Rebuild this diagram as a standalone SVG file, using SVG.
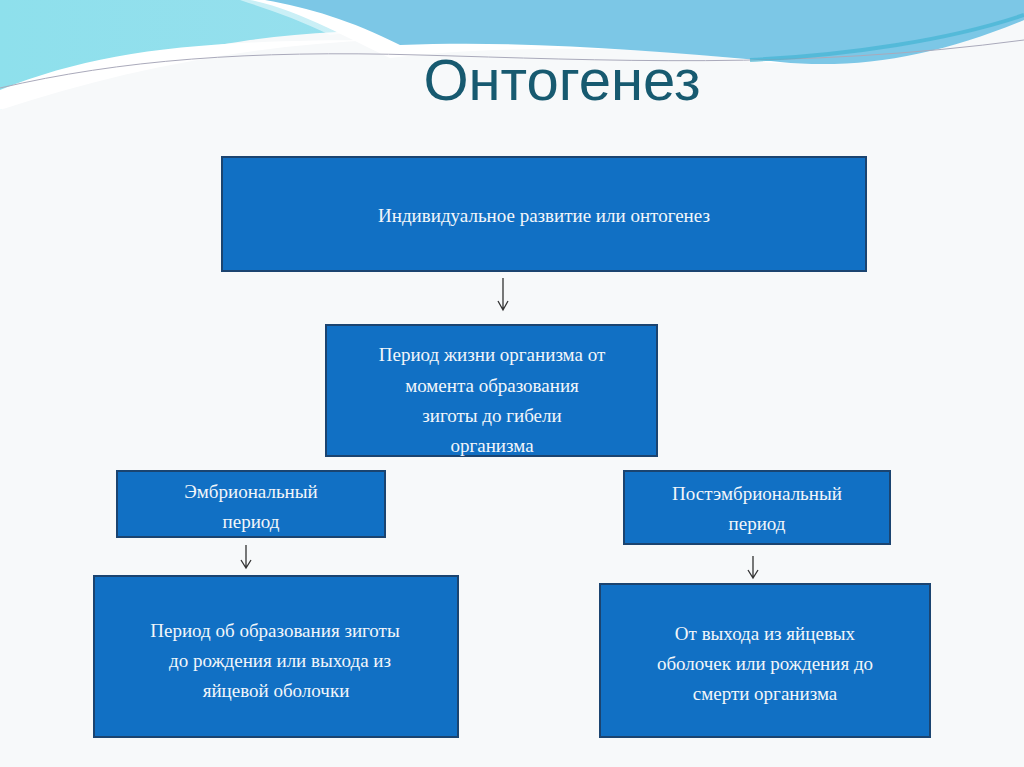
<svg xmlns="http://www.w3.org/2000/svg" width="1024" height="767" viewBox="0 0 1024 767">
<style>
.box{fill:#1170c4;stroke:#1b4470;stroke-width:2}
.t{font-family:"Liberation Serif",serif;font-size:19px;fill:#f2f6fa;text-anchor:middle}
.c{stroke:#333;stroke-width:1.3;fill:none}
</style>
<defs>
<linearGradient id="g1" x1="0" y1="0" x2="1" y2="0"><stop offset="0" stop-color="#8ee0ec"/><stop offset="1" stop-color="#a6def0"/></linearGradient>
</defs>
<rect width="1024" height="767" fill="#f7f9fa"/>
<path d="M0 0 H1024 V20 C900 60 820 65 740 58 C600 30 400 20 250 40 C120 60 40 90 0 110 Z" fill="url(#g1)"/>
<path d="M240 0 H1024 V20 C900 60 820 65 740 58 C600 40 450 20 330 35 C300 20 270 10 240 0Z" fill="#fff" opacity="0.5"/>
<path d="M250 0 C300 10 350 40 390 58 C500 45 650 45 760 62 C850 70 950 40 1024 18 V0Z" fill="#fff"/>
<path d="M265 0 H1024 V20 C940 55 860 70 780 62 C650 50 520 40 400 45 C350 20 310 8 265 0Z" fill="#7cc7e6"/>
<path d="M0 90 C100 50 200 40 380 40 C250 45 120 70 0 110Z" fill="#fff"/>
<path d="M0 88 C120 60 250 50 420 55 C600 60 800 70 1024 40" fill="none" stroke="#aab" stroke-width="1"/>
<path d="M750 60 C850 55 950 40 1024 15" fill="none" stroke="#3ab0d0" stroke-width="4" opacity="0.6"/>
<text x="562" y="100" font-family="Liberation Sans,sans-serif" font-size="58" fill="#175a70" text-anchor="middle">Онтогенез</text>
<g id="connectors">
<path class="c" d="M503 278 V310 M498 301 L503 310 L508 301"/>
<path class="c" d="M246 545 V568 M241 560 L246 568 L251 560"/>
<path class="c" d="M753 556 V578 M748 570 L753 578 L758 570"/>
</g>
<g id="n1"><rect class="box" x="222" y="157" width="644" height="114"/><text class="t" x="544" y="222">Индивидуальное развитие или онтогенез</text></g>
<g id="n2"><rect class="box" x="326" y="325" width="331" height="131"/><text class="t" x="492" y="361">Период жизни организма от</text><text class="t" x="492" y="392">момента образования</text><text class="t" x="492" y="422">зиготы  до гибели</text><text class="t" x="492" y="452">организма</text></g>
<g id="n3"><rect class="box" x="117" y="471" width="268" height="66"/><text class="t" x="251" y="498">Эмбриональный</text><text class="t" x="251" y="528">период</text></g>
<g id="n4"><rect class="box" x="624" y="471" width="266" height="73"/><text class="t" x="757" y="500">Постэмбриональный</text><text class="t" x="757" y="530">период</text></g>
<g id="n5"><rect class="box" x="94" y="576" width="364" height="161"/><text class="t" x="275" y="637">Период об образования зиготы</text><text class="t" x="280" y="667">до рождения или выхода из</text><text class="t" x="276" y="697">яйцевой оболочки</text></g>
<g id="n6"><rect class="box" x="600" y="584" width="330" height="153"/><text class="t" x="765" y="640">От выхода из яйцевых</text><text class="t" x="765" y="670">оболочек или рождения до</text><text class="t" x="765" y="700">смерти организма</text></g>
</svg>
